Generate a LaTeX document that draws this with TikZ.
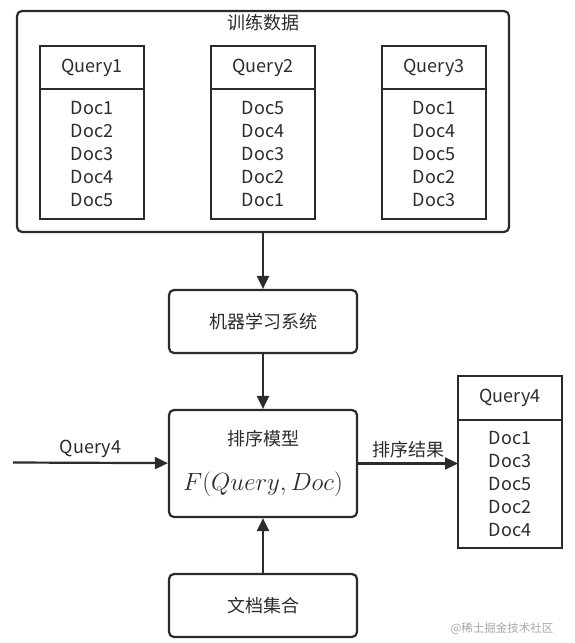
\documentclass[tikz,border=0pt]{standalone}
\usepackage[no-math]{fontspec}
\setmainfont{Noto Sans CJK SC}
\usetikzlibrary{positioning, arrows.meta}
\definecolor{ink}{HTML}{2B2B2B}

\begin{document}
\begin{tikzpicture}[
         x=1pt, y=-1pt,
         node distance=142pt,
         every node/.style={text=ink, font=\fontsize{18}{23}\selectfont},
         box/.style={draw=ink, rounded corners=5pt, line width=2.2pt, minimum width=188pt, minimum height=63pt},
         head/.style={draw=ink, line width=2.3pt, minimum width=104pt, minimum height=43pt, outer sep=0pt},
         body/.style={head, minimum height=130pt, align=center},
         flow/.style={draw=ink, line width=2.2pt, -{Triangle[length=13pt,width=12pt]}},
         sitemark/.style={text=black!35, font=\fontsize{11.5}{13}\selectfont}
      ]
         \useasboundingbox (0,0) rectangle (575,643);

         % Training data
         \node[box, minimum width=492pt, minimum height=221pt] (train) at (263,121.5) {};
         \node (traintitle) at (263,23) {训练数据};

         \node[head] (q1) at (92,67.5) {Query1};
         \node[body, below=0pt of q1] (q1b) {Doc1\\Doc2\\Doc3\\Doc4\\Doc5};
         \node[head] (q2) at (263,67.5) {Query2};
         \node[body, below=0pt of q2] (q2b) {Doc5\\Doc4\\Doc3\\Doc2\\Doc1};
         \node[head] (q3) at (434,67.5) {Query3};
         \node[body, below=0pt of q3] (q3b) {Doc1\\Doc4\\Doc5\\Doc2\\Doc3};

         % Pipeline
         \node[box] (ml) at (263,321.5) {机器学习系统};
         \node[box, minimum height=107pt, align=center] (rank) [below of=ml] {排序模型\\[22pt]{\fontsize{23}{27}\selectfont$F(Query,Doc)$}};
         \node[box] (docs) [below of=rank] {文档集合};
         \coordinate (qin) at (13,462.5);

         % Result
         \node[head, minimum height=44pt] (q4) at (510,398) {Query4};
         \node[body, minimum height=128pt, below=0pt of q4] (q4b) {Doc1\\Doc3\\Doc5\\Doc2\\Doc4};

         % Arrows
         \draw[flow] (train) -- (ml);
         \draw[flow] (ml) -- (rank);
         \draw[flow] (docs) -- (rank);
         \draw[flow] (qin) -- node[midway, above, yshift=1pt] {Query4} (rank);
         \draw[flow] (rank.east) -- node[midway, above, yshift=1pt] {排序结果} (rank.east -| q4b.west);

         \node[sitemark] (site) at (502,629) {@稀土掘金技术社区};
      \end{tikzpicture}
\end{document}
